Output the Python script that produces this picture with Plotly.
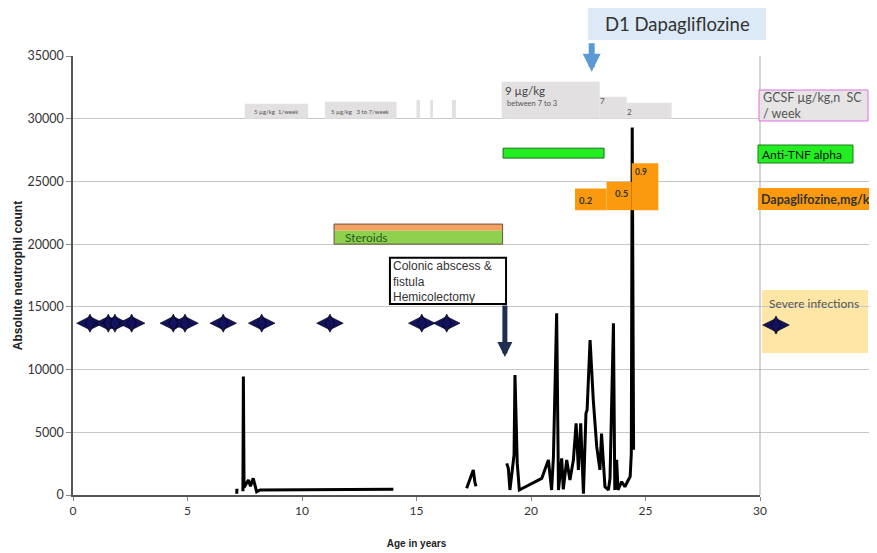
import plotly.graph_objects as go

# ---------------- data ----------------
# absolute neutrophil count over age (segments separated by None)
age = [7.15, 7.16, None,
       7.42, 7.44, 7.47, 7.66, 7.75, 7.87, 8.02, 8.17, 13.99, None,
       17.19, 17.35, 17.48, 17.55, 17.6, None,
       18.94, 19.01, 19.08, 19.26, 19.3, 19.4, 19.49, 20.47, 20.76, 20.9, 20.98,
       21.12, 21.2, 21.34, 21.41, 21.56, 21.7, 21.85, 21.97, 22.07, 22.17, 22.29,
       22.4, 22.45, 22.58, 22.72, 22.87, 23.01, 23.08, 23.23, 23.38, 23.45, 23.6,
       23.66, 23.74, 23.8, 23.96, 24.1, 24.25, 24.33, 24.38, 24.42, 24.48]
anc = [100, 500, None,
       300, 9450, 600, 1200, 700, 1330, 260, 400, 450, None,
       530, 1300, 2000, 1000, 700, None,
       2520, 2130, 400, 3190, 9560, 2520, 400, 1330, 2790, 400, 3050,
       14480, 400, 2920, 450, 2790, 1200, 2790, 5710, 2000, 5710, 100,
       6510, 6770, 12350, 7570, 3850, 2000, 4900, 660, 400, 1330, 13700,
       400, 2800, 400, 1060, 660, 1200, 1460, 3300, 29300, 3600]

# severe infections (age)
infection_age = [0.74, 1.54, 1.83, 2.56, 4.38, 4.89, 6.56, 8.24, 11.22, 15.23, 16.32]
infection_level = [13700] * len(infection_age)

# GCSF periods
gcsf_start = [7.5, 11.0, 15.0, 15.6, 16.55, 18.72, 23.0, 24.18]
gcsf_end = [10.27, 14.13, 15.15, 15.72, 16.72, 23.0, 24.18, 26.14]
gcsf_top = [31200, 31350, 31500, 31500, 31500, 32950, 31750, 31270]
gcsf_base = 30000

# Dapagliflozine doses
dapa_start = [21.92, 23.3, 24.4]
dapa_end = [23.3, 24.4, 25.56]
dapa_top = [24440, 24970, 26440]
dapa_base = 22710
dapa_dose = ["0.2", "0.5", "0.9"]

# Anti-TNF period
tnf_period = [18.78, 23.19]
# Steroid period
steroid_period = [11.4, 18.76]
# surgery event
surgery_age = 18.86

x_ticks = [0, 5, 10, 15, 20, 25, 30]
y_ticks = [0, 5000, 10000, 15000, 20000, 25000, 30000, 35000]

FONT = "Lato"
AX = "Liberation Sans"

# ---------------- layout geometry (screen pixels -> paper) ----------------
PL, PT, PB = 73, 56, 495          # paper left / plot top / plot bottom on screen
PW = 812                          # paper width (l=65, r=0 with 8px body offset)
PH = PB - PT
MAIN_R = 760


def px(x):
    return (x - PL) / PW


def py(y):
    return (PB - y) / PH


STAR = "#12125e"

fig = go.Figure()

fig.add_trace(go.Scatter(x=age, y=anc, mode="lines",
                         line=dict(color="black", width=3),
                         connectgaps=False, showlegend=False, hoverinfo="skip"))


def add_stars(xs, ys, xaxis="x"):
    fig.add_trace(go.Scatter(x=xs, y=ys, mode="markers", xaxis=xaxis,
                             marker=dict(symbol="diamond-wide", size=19, color=STAR,
                                         line=dict(color="black", width=0.6)),
                             showlegend=False, hoverinfo="skip"))
    fig.add_trace(go.Scatter(x=xs, y=ys, mode="markers", xaxis=xaxis,
                             marker=dict(symbol="diamond-tall", size=13, color=STAR,
                                         line=dict(color="black", width=0.6)),
                             showlegend=False, hoverinfo="skip"))


add_stars(infection_age, infection_level)
# legend star in the side panel (x2 is in screen pixels)
add_stars([776], [13550], xaxis="x2")

shapes = []
for s, e, t in zip(gcsf_start, gcsf_end, gcsf_top):
    shapes.append(dict(type="rect", xref="x", yref="y", x0=s, x1=e, y0=gcsf_base, y1=t,
                       fillcolor="#e2e0e0", line=dict(width=0), layer="above"))
for s, e, t in zip(dapa_start, dapa_end, dapa_top):
    shapes.append(dict(type="rect", xref="x", yref="y", x0=s, x1=e, y0=dapa_base, y1=t,
                       fillcolor="#fb9a0e", line=dict(width=0), layer="above"))
shapes.append(dict(type="rect", xref="x", yref="y", x0=tnf_period[0], x1=tnf_period[1],
                   y0=26860, y1=27650, fillcolor="#22ee22",
                   line=dict(color="#1d6b1d", width=1), layer="above"))
shapes.append(dict(type="rect", xref="x", yref="y", x0=steroid_period[0], x1=steroid_period[1],
                   y0=21070, y1=21600, fillcolor="#f4a060", line=dict(width=0), layer="above"))
shapes.append(dict(type="rect", xref="x", yref="y", x0=steroid_period[0], x1=steroid_period[1],
                   y0=20000, y1=21070, fillcolor="#8fd14f", line=dict(width=0), layer="above"))
shapes.append(dict(type="rect", xref="x", yref="y", x0=steroid_period[0], x1=steroid_period[1],
                   y0=20000, y1=21600, fillcolor="rgba(0,0,0,0)",
                   line=dict(color="#6b5040", width=1), layer="above"))
shapes.append(dict(type="rect", xref="x", yref="y", x0=13.84, x1=18.91, y0=15220, y1=18910,
                   fillcolor="white", line=dict(color="black", width=2), layer="above"))
# right border of plot
shapes.append(dict(type="line", xref="x domain", yref="paper", x0=1, x1=1, y0=0, y1=1,
                   line=dict(color="#aaaaaa", width=1)))
# title box
shapes.append(dict(type="rect", xref="paper", yref="paper", x0=px(588), x1=px(766),
                   y0=py(40), y1=py(8), fillcolor="#dce9f6", line=dict(width=0)))
# legend boxes
shapes.append(dict(type="rect", xref="paper", yref="paper", x0=px(759), x1=px(868),
                   y0=py(121), y1=py(90), fillcolor="#e6e4e4", line=dict(color="#e070e0", width=1)))
shapes.append(dict(type="rect", xref="paper", yref="paper", x0=px(758), x1=px(853),
                   y0=py(163), y1=py(145), fillcolor="#22ee22", line=dict(color="#1a7a1a", width=1)))
shapes.append(dict(type="rect", xref="paper", yref="paper", x0=px(758), x1=px(890),
                   y0=py(210), y1=py(188), fillcolor="#fb9a0e", line=dict(width=0)))
shapes.append(dict(type="rect", xref="paper", yref="paper", x0=px(762), x1=px(868),
                   y0=py(353), y1=py(290), fillcolor="#fde6a6", line=dict(width=0), layer="below"))

ann = []


def txt(x, y, t, size=11, color="#444", xref="x", yref="y", xanchor="left", yanchor="middle",
        bold=False, family=FONT, align="left"):
    ann.append(dict(x=x, y=y, xref=xref, yref=yref, text=("<b>%s</b>" % t) if bold else t,
                    showarrow=False, xanchor=xanchor, yanchor=yanchor, align=align,
                    font=dict(size=size, color=color, family=family)))


txt(8.87, 30600, "5 µg/kg  1/week", size=6, color="#555", xanchor="center")
txt(12.57, 30600, "5 µg/kg   3 to 7/week", size=6, color="#555", xanchor="center")
txt(18.78, 32280, "9 µg/kg", size=11.5, color="#444")
txt(18.85, 31240, "between 7 to 3", size=7.5, color="#555")
txt(23.14, 31450, "7", size=8, color="#555", xanchor="center")
txt(24.32, 30520, "2", size=8, color="#555", xanchor="center")
txt(22.4, 23510, dapa_dose[0], size=9.5, color="#333", bold=True, xanchor="center")
txt(23.93, 24070, dapa_dose[1], size=9.5, color="#333", bold=True, xanchor="center")
txt(24.8, 25740, dapa_dose[2], size=8.5, color="#333", bold=True, xanchor="center")
txt(11.79, 20560, "Steroids", size=12, color="#1e5b1e")
txt(13.9, 19000, "Colonic abscess &amp;<br>fistula<br>Hemicolectomy", size=12, color="#333",
    yanchor="top", family=AX)
txt(px(677), py(24), "D1 Dapagliflozine", size=18.5, color="#333", xref="paper", yref="paper",
    xanchor="center")
txt(px(761), py(105), "GCSF µg/kg,n  SC<br>/ week", size=12.5, color="#555", xref="paper",
    yref="paper")
txt(px(760), py(154), "Anti-TNF alpha", size=12, color="#111", xref="paper", yref="paper")
txt(px(759), py(199), "Dapaglifozine,mg/kg", size=12.5, color="#333", xref="paper", yref="paper",
    bold=True)
txt(px(767), py(303), "Severe infections", size=12, color="#555", xref="paper", yref="paper")

# arrows
ann.append(dict(x=surgery_age, y=11000, xref="x", yref="y", ax=surgery_age, ay=15220,
                axref="x", ayref="y", showarrow=True, arrowhead=2, arrowsize=0.6,
                arrowwidth=5, arrowcolor="#1f2f4f", text=""))
ann.append(dict(x=22.65, y=33740, xref="x", yref="y", ax=22.65, ay=36130,
                axref="x", ayref="y", showarrow=True, arrowhead=2, arrowsize=0.6,
                arrowwidth=6, arrowcolor="#5b9bd5", text=""))

fig.update_layout(
    width=877, height=553,
    margin=dict(l=65, r=0, t=48, b=66, autoexpand=False),
    paper_bgcolor="white", plot_bgcolor="white",
    shapes=shapes, annotations=ann,
    font=dict(family=FONT, color="#333"),
    showlegend=False,
    xaxis=dict(domain=[0, px(MAIN_R)], automargin=False),
    xaxis2=dict(domain=[px(MAIN_R), 1], range=[MAIN_R, PL + PW], anchor="y",
                visible=False, showgrid=False, zeroline=False, fixedrange=True,
                automargin=False),
)
fig.layout.xaxis.update(range=[0, 30], tickvals=x_ticks, showgrid=False, zeroline=False,
                        showline=True, linecolor="#555", linewidth=1.5, ticks="outside",
                        ticklen=4, tickcolor="#888",
                        tickfont=dict(size=12, color="#333", family=FONT),
                        title=dict(text="<b>Age in years</b>",
                                   font=dict(size=10, family=AX, color="#222"), standoff=23))
fig.update_yaxes(range=[0, 35000], tickvals=y_ticks, tickformat="d", showgrid=True,
                 automargin=False,
                 gridcolor="#c8c8c8", gridwidth=1, zeroline=False, showline=True,
                 linecolor="#555", linewidth=1.5, ticks="outside", ticklen=5, tickcolor="#888",
                 tickfont=dict(size=12.5, color="#333", family=FONT),
                 title=dict(text="<b>Absolute neutrophil count</b>",
                            font=dict(size=12, family=AX, color="#222"), standoff=2))

fig.write_html("out.html")
